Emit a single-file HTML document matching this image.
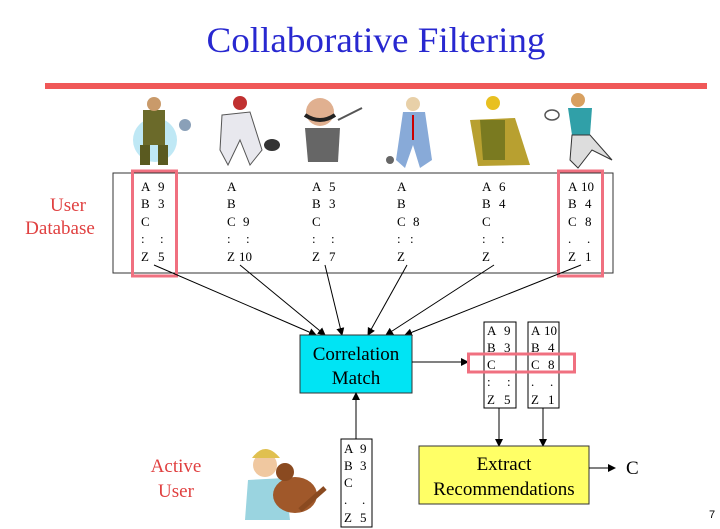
<!DOCTYPE html>
<html><head><meta charset="utf-8"><style>
html,body{margin:0;padding:0;background:#fff;}
svg{display:block;}
text{font-family:"Liberation Serif",serif;}
</style></head><body>
<svg width="720" height="529" viewBox="0 0 720 529" xmlns="http://www.w3.org/2000/svg">
<defs>
<marker id="ah" markerWidth="8" markerHeight="8" refX="7" refY="4" orient="auto" markerUnits="userSpaceOnUse">
<path d="M0,0 L8,4 L0,8 z" fill="#000"/></marker>
</defs>
<text x="376" y="52" font-size="36" fill="#2828d0" text-anchor="middle" textLength="339" lengthAdjust="spacingAndGlyphs">Collaborative Filtering</text>
<rect x="45" y="83" width="662" height="6" fill="#f05858"/>

<!-- clipart approximations -->
<g>
<ellipse cx="155" cy="140" rx="22" ry="22" fill="#bfe8f5"/>
<rect x="143" y="110" width="22" height="35" fill="#6b6a2a"/><circle cx="154" cy="104" r="7" fill="#c99a6a"/>
<rect x="140" y="145" width="10" height="20" fill="#5a5a20"/><rect x="158" y="145" width="10" height="20" fill="#5a5a20"/>
<circle cx="185" cy="125" r="6" fill="#8aa0b8"/>
<circle cx="240" cy="103" r="7" fill="#c03030"/><path d="M222 115 L250 112 L262 150 L250 165 L240 140 L228 165 L220 150 Z" fill="#e8e8ee" stroke="#555" stroke-width="1"/>
<ellipse cx="272" cy="145" rx="8" ry="6" fill="#333"/>
<circle cx="320" cy="112" r="14" fill="#e0b090"/><path d="M305 115 Q320 125 335 115" stroke="#222" stroke-width="4" fill="none"/>
<path d="M305 128 L340 128 L338 162 L308 162 Z" fill="#666"/><line x1="338" y1="120" x2="362" y2="108" stroke="#555" stroke-width="2"/>
<circle cx="413" cy="104" r="7" fill="#e8d0a8"/><path d="M403 112 L425 112 L432 160 L420 168 L413 145 L405 168 L396 160 Z" fill="#88aad8"/>
<line x1="413" y1="115" x2="413" y2="140" stroke="#c00" stroke-width="2"/><circle cx="390" cy="160" r="4" fill="#666"/>
<circle cx="493" cy="103" r="7" fill="#e8c020"/><path d="M470 120 L515 118 L530 165 L478 166 Z" fill="#b8a030"/>
<path d="M480 120 L505 120 L505 160 L483 160 Z" fill="#7a7a20"/>
<circle cx="578" cy="100" r="7" fill="#d8a060"/><path d="M568 108 L592 108 L590 135 L572 135 Z" fill="#30a0a8"/>
<path d="M572 135 L590 135 L612 160 L592 150 L578 168 L570 160 Z" fill="#ddd" stroke="#333" stroke-width="1"/>
<ellipse cx="552" cy="115" rx="7" ry="5" fill="none" stroke="#555" stroke-width="1.5"/>
</g>

<!-- user database -->
<text x="68" y="211" font-size="19" fill="#e04040" text-anchor="middle">User</text>
<text x="60" y="234" font-size="19" fill="#e04040" text-anchor="middle">Database</text>
<rect x="113" y="173" width="500" height="100" fill="#fff" stroke="#333" stroke-width="1"/>

<g font-size="13" fill="#000" stroke="#000" stroke-width="0">
<rect x="138" y="177" width="32" height="88" fill="#fff" stroke="#000"/>
<rect x="224" y="177" width="32" height="88" fill="#fff" stroke="#000"/>
<rect x="309" y="177" width="32" height="88" fill="#fff" stroke="#000"/>
<rect x="394" y="177" width="31" height="88" fill="#fff" stroke="#000"/>
<rect x="479" y="177" width="31" height="88" fill="#fff" stroke="#000"/>
<rect x="565" y="177" width="32" height="88" fill="#fff" stroke="#000"/>
</g>
<g font-size="13" fill="#000">
<text x="141" y="191">A</text><text x="158" y="191">9</text>
<text x="141" y="208">B</text><text x="158" y="208">3</text>
<text x="141" y="226">C</text>
<text x="141" y="243">:</text><text x="160" y="243">:</text>
<text x="141" y="261">Z</text><text x="158" y="261">5</text>

<text x="227" y="191">A</text><text x="227" y="208">B</text>
<text x="227" y="226">C</text><text x="243" y="226">9</text>
<text x="227" y="243">:</text><text x="246" y="243">:</text>
<text x="227" y="261">Z</text><text x="239" y="261">10</text>

<text x="312" y="191">A</text><text x="329" y="191">5</text>
<text x="312" y="208">B</text><text x="329" y="208">3</text>
<text x="312" y="226">C</text>
<text x="312" y="243">:</text><text x="331" y="243">:</text>
<text x="312" y="261">Z</text><text x="329" y="261">7</text>

<text x="397" y="191">A</text><text x="397" y="208">B</text>
<text x="397" y="226">C</text><text x="413" y="226">8</text>
<text x="397" y="243">:</text><text x="410" y="243">:</text>
<text x="397" y="261">Z</text>

<text x="482" y="191">A</text><text x="499" y="191">6</text>
<text x="482" y="208">B</text><text x="499" y="208">4</text>
<text x="482" y="226">C</text>
<text x="482" y="243">:</text><text x="501" y="243">:</text>
<text x="482" y="261">Z</text>

<text x="568" y="191">A</text><text x="581" y="191">10</text>
<text x="568" y="208">B</text><text x="585" y="208">4</text>
<text x="568" y="226">C</text><text x="585" y="226">8</text>
<text x="568" y="243">.</text><text x="587" y="243">.</text>
<text x="568" y="261">Z</text><text x="585" y="261">1</text>
</g>
<rect x="132.5" y="171" width="44" height="105" fill="none" stroke="#f07080" stroke-width="3"/>
<rect x="558.5" y="171" width="44" height="105" fill="none" stroke="#f07080" stroke-width="3"/>

<!-- converging arrows -->
<g stroke="#000" stroke-width="1" marker-end="url(#ah)">
<line x1="154" y1="265" x2="316" y2="335"/>
<line x1="240" y1="265" x2="325" y2="335"/>
<line x1="325" y1="265" x2="342" y2="335"/>
<line x1="407" y1="265" x2="368" y2="335"/>
<line x1="494" y1="265" x2="386" y2="335"/>
<line x1="581" y1="265" x2="405" y2="335"/>
</g>

<rect x="300" y="335" width="112" height="58" fill="#00e4f4" stroke="#333" stroke-width="1"/>
<text x="356" y="360" font-size="19" text-anchor="middle">Correlation</text>
<text x="356" y="384" font-size="19" text-anchor="middle">Match</text>

<line x1="412" y1="362" x2="468" y2="362" stroke="#000" marker-end="url(#ah)"/>

<rect x="484" y="322" width="32" height="86" fill="#fff" stroke="#000"/>
<rect x="528" y="322" width="31" height="86" fill="#fff" stroke="#000"/>
<g font-size="13">
<text x="487" y="335">A</text><text x="504" y="335">9</text>
<text x="487" y="352">B</text><text x="504" y="352">3</text>
<text x="487" y="369">C</text>
<text x="487" y="386">:</text><text x="507" y="386">:</text>
<text x="487" y="404">Z</text><text x="504" y="404">5</text>
<text x="531" y="335">A</text><text x="544" y="335">10</text>
<text x="531" y="352">B</text><text x="548" y="352">4</text>
<text x="531" y="369">C</text><text x="548" y="369">8</text>
<text x="531" y="386">.</text><text x="550" y="386">.</text>
<text x="531" y="404">Z</text><text x="548" y="404">1</text>
</g>
<rect x="468.5" y="354" width="106" height="18" fill="none" stroke="#f07080" stroke-width="3"/>

<line x1="499" y1="408" x2="499" y2="446" stroke="#000" marker-end="url(#ah)"/>
<line x1="543" y1="408" x2="543" y2="446" stroke="#000" marker-end="url(#ah)"/>

<rect x="419" y="446" width="170" height="58" fill="#ffff66" stroke="#333"/>
<text x="504" y="470" font-size="19" text-anchor="middle">Extract</text>
<text x="504" y="495" font-size="19" text-anchor="middle">Recommendations</text>
<line x1="589" y1="468" x2="615" y2="468" stroke="#000" marker-end="url(#ah)"/>
<text x="626" y="474" font-size="19">C</text>

<!-- active user -->
<text x="176" y="472" font-size="19" fill="#e04040" text-anchor="middle">Active</text>
<text x="176" y="497" font-size="19" fill="#e04040" text-anchor="middle">User</text>
<g>
<circle cx="265" cy="465" r="12" fill="#f0c8a0"/><path d="M252 458 Q265 440 280 458" fill="#e0c050"/>
<path d="M248 480 L285 478 L290 520 L245 520 Z" fill="#9ad4e0"/>
<ellipse cx="295" cy="495" rx="22" ry="18" fill="#a0582a"/><circle cx="285" cy="472" r="9" fill="#8a4a20"/>
<path d="M300 510 L325 488" stroke="#8a4a20" stroke-width="5"/>
</g>
<rect x="341" y="439" width="31" height="88" fill="#fff" stroke="#000"/>
<g font-size="13">
<text x="344" y="453">A</text><text x="360" y="453">9</text>
<text x="344" y="470">B</text><text x="360" y="470">3</text>
<text x="344" y="487">C</text>
<text x="344" y="504">.</text><text x="362" y="504">.</text>
<text x="344" y="522">Z</text><text x="360" y="522">5</text>
</g>
<line x1="356" y1="439" x2="356" y2="393" stroke="#000" marker-end="url(#ah)"/>

<text x="709" y="518" font-size="11" font-family="Liberation Sans, sans-serif" style="font-family:'Liberation Sans',sans-serif">7</text>
</svg>
</body></html>
